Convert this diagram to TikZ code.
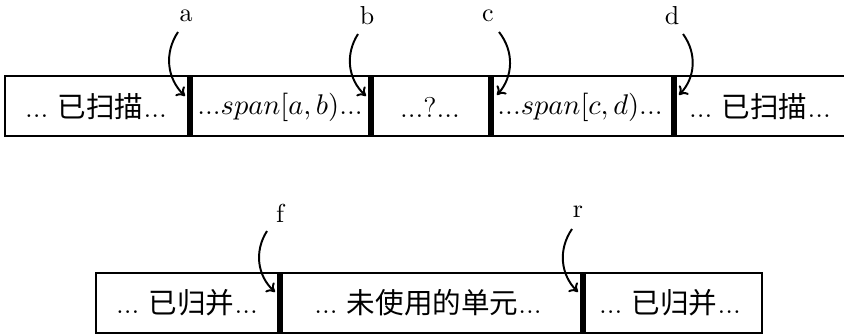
\documentclass[tikz,border=0pt]{standalone}
\usepackage{fontspec}
\newfontfamily\cjk{Noto Sans CJK SC}
\usetikzlibrary{arrows.meta}
\begin{document}
\begin{tikzpicture}[x=0.385pt,y=-0.385pt,
  cell/.style={font=\fontsize{11}{13}\selectfont, inner sep=0pt, anchor=center},
  lbl/.style={font=\fontsize{10}{12}\selectfont, inner sep=1pt},
  bar/.style={line width=2.6pt},
  frame/.style={line width=0.45pt},
  ptr/.style={-{To[length=3pt,width=5pt]}, line width=0.75pt}]
\useasboundingbox (0,0) rectangle (844,335);
% top row
\draw[frame] (848,76) -- (5,76) -- (5,136) -- (848,136);
\foreach \x/\n in {190/ba,371/bb,491/bc,674/bd}{
  \draw[bar] (\x,76) -- (\x,136);
}
\node[cell] (t1) at (96,107) {...\ {\cjk 已扫描}...};
\node[cell] (t2) at (280,107) {...$span[a,b)$...};
\node[cell] (t3) at (430,107) {...?...};
\node[cell] (t4) at (580,107) {...$span[c,d)$...};
\node[cell] (t5) at (760,107) {...\ {\cjk 已扫描}...};
\node[lbl] (la) at (186,16) {a};
\node[lbl] (lb) at (367,16) {b};
\node[lbl] (lc) at (488,16) {c};
\node[lbl] (ld) at (672,16) {d};
\coordinate (ea) at (185,96);
\coordinate (eb) at (366,96);
\coordinate (ec) at (497,95);
\coordinate (ed) at (679,95);
\draw[ptr] (178,32) to[bend right=40] (ea);
\draw[ptr] (358,34) to[bend right=40] (eb);
\draw[ptr] (499,32) to[bend left=40] (ec);
\draw[ptr] (683,34) to[bend left=40] (ed);
% bottom row
\draw[frame] (96,273) rectangle (762,333);
\draw[bar] (280,273) -- (280,333);
\draw[bar] (583,273) -- (583,333);
\node[cell] (m1) at (187,303) {...\ {\cjk 已归并}...};
\node[cell] (m2) at (428,303) {...\ {\cjk 未使用的单元}...};
\node[cell] (m3) at (670,303) {...\ {\cjk 已归并}...};
\node[lbl] (lf) at (280,213) {f};
\node[lbl] (lr) at (578,212) {r};
\coordinate (ef) at (275,292);
\coordinate (er) at (578,292);
\draw[ptr] (267,231) to[bend right=40] (ef);
\draw[ptr] (572,229) to[bend right=40] (er);
\end{tikzpicture}
\end{document}
